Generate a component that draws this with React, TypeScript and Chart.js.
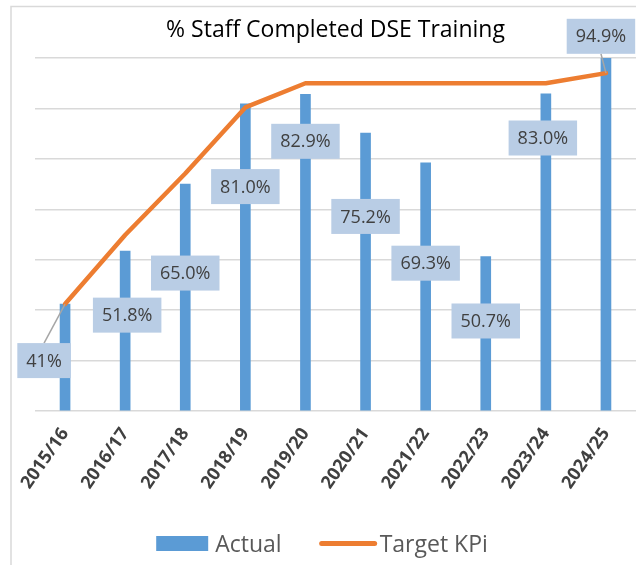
import React, { useEffect, useRef } from 'react';
import { Chart, registerables } from 'chart.js';

Chart.register(...registerables);

// ---------------- data ----------------
const categories = ['2015/16', '2016/17', '2017/18', '2018/19', '2019/20', '2020/21', '2021/22', '2022/23', '2023/24', '2024/25'];
// bar heights as drawn (axis units)
const actualValues = [21.2, 31.7, 45.0, 60.9, 62.8, 55.1, 49.2, 30.6, 62.9, 70.0];
// target KPI line (axis units)
const targetValues = [21.2, 34.9, 47.1, 60.2, 65.0, 65.0, 65.0, 65.0, 65.0, 67.0];
// data label texts shown on the bars
const actualLabels = ['41%', '51.8%', '65.0%', '81.0%', '82.9%', '75.2%', '69.3%', '50.7%', '83.0%', '94.9%'];
const seriesNames = ['Actual', 'Target KPi'];
const titleText = '% Staff Completed DSE Training';
const yMin = 0;
const yMax = 70;
const yStep = 10;

// ---------------- placement / style ----------------
const labelDX = [-21, 2, 0, 0, 0, 0, 0, 0, -3, -5];
const labelDY = [56.5, 64, 89, 82.7, 47, 83.3, 100.3, 64.3, 44.2, -21.7];
const leaderTo = ['bar', '', '', '', '', '', '', '', '', 'line'];

const BAR_COLOR = '#5B9BD5';
const LINE_COLOR = '#ED7D31';
const GRID_COLOR = '#D9D9D9';
const LABEL_BG = '#B9CDE5';
const LABEL_TEXT = '#404040';
const FONT = '"Open Sans", "Liberation Sans", sans-serif';

const decorPlugin = {
  id: 'decor',
  beforeDraw(chart: any) {
    const ctx = chart.ctx;
    ctx.save();
    ctx.fillStyle = '#ffffff';
    ctx.fillRect(0, 0, chart.width, chart.height);
    ctx.strokeStyle = GRID_COLOR;
    ctx.lineWidth = 1.5;
    ctx.strokeRect(11, 6.5, chart.width + 40, chart.height + 40);
    ctx.restore();
  },
  afterDatasetsDraw(chart: any) {
    const ctx = chart.ctx;
    const barMeta = chart.getDatasetMeta(0);
    const lineMeta = chart.getDatasetMeta(1);
    ctx.save();
    ctx.font = `18px ${FONT}`;
    ctx.textAlign = 'center';
    ctx.textBaseline = 'middle';
    barMeta.data.forEach((el: any, i: number) => {
      const cx = el.x + labelDX[i];
      const cy = el.y + labelDY[i];
      const text = actualLabels[i];
      const w = ctx.measureText(text).width + 18;
      const h = 35;
      // leader line
      if (leaderTo[i]) {
        const target = leaderTo[i] === 'line' ? lineMeta.data[i] : el;
        const sy = target.y < cy ? cy - h / 2 : cy + h / 2;
        ctx.strokeStyle = '#A6A6A6';
        ctx.lineWidth = 1.5;
        ctx.beginPath();
        ctx.moveTo(cx, sy);
        ctx.lineTo(target.x, target.y);
        ctx.stroke();
      }
      ctx.fillStyle = LABEL_BG;
      ctx.fillRect(cx - w / 2, cy - h / 2, w, h);
      ctx.fillStyle = LABEL_TEXT;
      ctx.fillText(text, cx, cy + 1);
    });
    ctx.restore();
  },
  afterDraw(chart: any) {
    const ctx = chart.ctx;
    const area = chart.chartArea;
    ctx.save();
    // title
    ctx.font = `23px ${FONT}`;
    ctx.fillStyle = '#000000';
    ctx.textAlign = 'center';
    ctx.textBaseline = 'alphabetic';
    ctx.fillText(titleText, (area.left + area.right) / 2, 37);

    // legend
    ctx.font = `23px ${FONT}`;
    ctx.textAlign = 'left';
    const sw1 = 52, gap1 = 7, sw2 = 57, gap2 = 3, itemGap = 38;
    const t1 = ctx.measureText(seriesNames[0]).width;
    const t2 = ctx.measureText(seriesNames[1]).width;
    const total = sw1 + gap1 + t1 + itemGap + sw2 + gap2 + t2;
    let x = chart.width / 2 + 4 - total / 2;
    const cy = 543.5;
    ctx.fillStyle = BAR_COLOR;
    ctx.fillRect(x, cy - 7.5, sw1, 15);
    x += sw1 + gap1;
    ctx.fillStyle = '#595959';
    ctx.fillText(seriesNames[0], x, 551.7);
    x += t1 + itemGap;
    ctx.strokeStyle = LINE_COLOR;
    ctx.lineWidth = 5;
    ctx.lineCap = 'round';
    ctx.beginPath();
    ctx.moveTo(x + 2, cy);
    ctx.lineTo(x + sw2 - 2, cy);
    ctx.stroke();
    x += sw2 + gap2;
    ctx.fillText(seriesNames[1], x, 551.7);
    ctx.restore();
  },
};

export default function App() {
  const canvasRef = useRef<HTMLCanvasElement | null>(null);

  useEffect(() => {
    const canvas = canvasRef.current;
    if (!canvas) return;
    const chart = new Chart(canvas, {
      type: 'bar',
      data: {
        labels: categories,
        datasets: [
          {
            type: 'bar',
            label: seriesNames[0],
            data: actualValues,
            backgroundColor: BAR_COLOR,
            barThickness: 10,
            order: 2,
          },
          {
            type: 'line',
            label: seriesNames[1],
            data: targetValues,
            borderColor: LINE_COLOR,
            backgroundColor: LINE_COLOR,
            borderWidth: 4.5,
            pointRadius: 0,
            tension: 0,
            borderCapStyle: 'round',
            borderJoinStyle: 'round',
            order: 1,
          },
        ],
      },
      options: {
        responsive: false,
        animation: false,
        devicePixelRatio: 1,
        layout: { padding: { left: 35, right: 0, top: 58, bottom: 0 } },
        plugins: {
          legend: { display: false },
          title: { display: false },
          tooltip: { enabled: false },
        },
        scales: {
          x: {
            grid: { display: false, drawTicks: false },
            border: { display: false },
            ticks: {
              color: '#404040',
              font: { family: FONT, size: 18, weight: 'bold' },
              minRotation: 55,
              maxRotation: 55,
              padding: 13,
              autoSkip: false,
            },
            afterFit(s: any) {
              s.height = 154;
              s.paddingLeft = 0;
              s.paddingRight = 0;
            },
          },
          y: {
            min: yMin,
            max: yMax,
            ticks: { display: false, stepSize: yStep },
            grid: { color: GRID_COLOR, lineWidth: 1.5, drawTicks: false },
            border: { display: false },
            afterFit(s: any) {
              s.width = 0;
              s.paddingTop = 0;
              s.paddingBottom = 0;
            },
          },
        },
      },
      plugins: [decorPlugin],
    });
    return () => chart.destroy();
  }, []);

  return (
    <div style={{ position: 'absolute', left: 0, top: 0, width: 636, height: 565 }}>
      <canvas ref={canvasRef} width={636} height={565} style={{ display: 'block' }} />
    </div>
  );
}
